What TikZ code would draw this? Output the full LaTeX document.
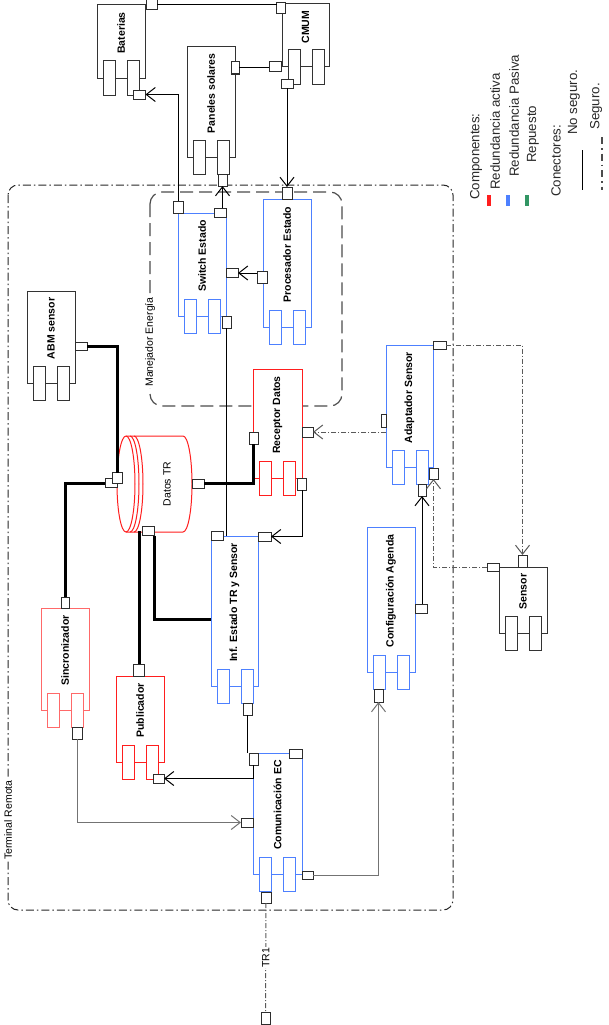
\documentclass[tikz,border=0pt]{standalone}
\usepackage{fontspec}
\setmainfont{Liberation Sans}
\usetikzlibrary{arrows.meta,calc}
\definecolor{cblue}{RGB}{77,128,255}
\definecolor{cred}{RGB}{255,30,30}
\definecolor{cpink}{RGB}{255,105,105}
\definecolor{cgreen}{RGB}{50,150,100}
\definecolor{cgray}{RGB}{45,45,45}
\definecolor{cdark}{RGB}{40,40,40}
\newcommand{\mycomp}[7]{%
  \node[cbox, draw=#6, minimum width={(#4-#2)*1pt}, minimum height={(#5-#3)*1pt}] (#1) at ({(#2+#4)/2},{(#3+#5)/2}) {};
  \draw[tabst, draw=#6] ({#2+6},{#5-17}) rectangle ({#2+18},{#5+17});
  \draw[tabst, draw=#6] ({#2+30},{#5-17}) rectangle ({#2+42},{#5+17});
  \node[lbl] (#1-l) at ({(#2+#4)/2},{(#3+#5-17)/2}) {#7};
}
\newcommand{\myport}[5]{\node[portbox, minimum width=#4pt, minimum height=#5pt] (#1) at (#2,#3) {};}
\begin{document}
\begin{tikzpicture}[x=1pt,y=-1pt,
  cbox/.style={fill=white, inner sep=0pt, outer sep=0pt, line width=1pt},
  tabst/.style={fill=white, line width=1pt},
  lbl/.style={font=\bfseries\fontsize{10.5}{12}\selectfont, rotate=90, inner sep=0pt},
  txt/.style={font=\fontsize{10.5}{12}\selectfont},
  leg/.style={font=\fontsize{13.3}{15}\selectfont, rotate=90, inner sep=0pt, anchor=west, text=cdark},
  portbox/.style={draw=cgray, fill=white, inner sep=0pt, outer sep=0pt, line width=1pt},
  conn/.style={line width=1pt, draw=black},
  arr/.style={-{Straight Barb[length=9pt,width=14pt]}},
  thk/.style={line width=3pt, draw=black},
  sec/.style={line width=1pt, draw=black!65, dash pattern=on 5pt off 2pt on 1pt off 2pt}
]
\useasboundingbox (0,0) rectangle (608,1025);

% boundaries
\draw[line width=1pt, draw=black!85, dash pattern=on 8pt off 3pt on 1.5pt off 3pt, rounded corners=10pt] (8,185) rectangle (453,910);
\node[txt, fill=white, rotate=90, inner sep=1pt] (trlbl) at (8,820) {Terminal Remota};
\draw[line width=1.2pt, draw=black!70, dash pattern=on 13pt off 6pt, rounded corners=12pt] (150,192) rectangle (342,406);
\node[txt, fill=white, rotate=90, inner sep=1pt] (melbl) at (150,342) {Manejador Energía};

% components
\mycomp{bat}{97}{5}{145}{78}{black!80}{Baterias}
\mycomp{cmum}{282}{4}{329}{67}{black!80}{CMUM}
\mycomp{pan}{187}{47}{235}{157}{black!80}{Paneles solares}
\mycomp{sw}{178}{213}{226}{316}{cblue}{Switch Estado}
\mycomp{proc}{263}{199}{311}{327}{cblue}{Procesador Estado}
\mycomp{abm}{27}{291}{75}{383}{black!80}{ABM sensor}
\mycomp{rec}{253}{369}{302}{478}{cred}{Receptor Datos}
\mycomp{adap}{386}{345}{433}{467}{cblue}{Adaptador Sensor}
\mycomp{inf}{211}{536}{258}{686}{cblue}{Inf. Estado TR y Sensor}
\mycomp{cfg}{367}{527}{415}{672}{cblue}{Configuración Agenda}
\mycomp{sen}{499}{567}{547}{633}{black!80}{Sensor}
\mycomp{sinc}{41}{608}{89}{710}{cpink}{Sincronizador}
\mycomp{pub}{116}{676}{164}{762}{cred}{Publicador}
\mycomp{com}{253}{753}{302}{874}{cblue}{Comunicación EC}

% Datos TR
\draw[draw=cred, fill=white, line width=1pt] (126,436) -- (183,436) arc[start angle=-90, end angle=90, x radius=9, y radius=48] -- (126,532) arc[start angle=90, end angle=270, x radius=9, y radius=48] -- cycle;
\draw[draw=cred, line width=1pt] (126,436) arc[start angle=-90, end angle=90, x radius=9, y radius=48];
\draw[draw=cred, line width=1pt] (130,436) arc[start angle=-90, end angle=90, x radius=9, y radius=48];
\draw[draw=cred, line width=1pt] (134,436) arc[start angle=-90, end angle=90, x radius=9, y radius=48];
\node[txt, rotate=90] (dtr) at (167,484) {Datos TR};

% ports
\myport{bT}{151.5}{5}{11}{10}
\myport{bB}{139.5}{94.5}{12}{9}
\myport{cT}{281}{8.5}{9}{11}
\myport{cL}{275}{67}{12}{10}
\myport{cB}{287}{83.5}{12}{9}
\myport{pR}{235}{68}{8}{12}
\myport{pB}{222.5}{180}{9}{12}
\myport{sTL}{178}{207}{10}{12}
\myport{sTR}{220}{212.5}{12}{9}
\myport{sR}{232}{273}{12}{9}
\myport{sB}{226.5}{322}{9}{12}
\myport{prT}{287}{193}{10}{12}
\myport{prL}{262}{277}{10}{12}
\myport{aR}{81}{346}{12}{8}
\myport{dL2}{111}{483}{12}{9}
\myport{dL1}{117}{478}{10}{11}
\myport{dR}{198}{483.5}{12}{9}
\myport{dB}{148.5}{531}{12}{9}
\myport{rL}{253.5}{438}{9}{12}
\myport{rR}{307.5}{432}{11}{10}
\myport{rB}{302}{484}{9}{12}
\myport{adT}{439.5}{345}{13}{8}
\myport{adL}{383.5}{420.5}{5}{13}
\myport{adB1}{422}{490}{8}{12}
\myport{adB2}{433.5}{473.5}{9}{11}
\myport{seT}{522.5}{561}{9}{12}
\myport{seL}{493}{567}{12}{8}
\myport{cfR}{421}{608.5}{12}{9}
\myport{cfB}{378.5}{695.5}{9}{13}
\myport{iTL}{217}{536}{12}{9}
\myport{iTR}{264.5}{536.5}{13}{9}
\myport{iB}{247.5}{709}{9}{12}
\myport{siT}{65}{602.5}{8}{11}
\myport{siB}{77}{733}{10}{12}
\myport{puT}{139}{670}{11}{12}
\myport{puB}{158.5}{778.5}{11}{9}
\myport{coTL}{253.5}{759}{9}{12}
\myport{coTR}{295.5}{753.5}{13}{9}
\myport{coL}{247}{822.5}{12}{9}
\myport{coR}{307.5}{875}{11}{8}
\myport{coB}{266}{897.5}{10}{11}
\myport{tA}{265.5}{1018}{9}{12}

% connectors
\draw[conn] (bT.east) -- (bT.east -| cT.west);
\draw[conn] (pR.east) -- (pR.east -| cL.west);
\draw[conn,arr] (cB.south) -- (prT.north);
\draw[conn,arr] (sTL.north) |- (bB.east);
\draw[conn,arr] (pB.south |- sTR.north) -- (pB.south);
\draw[conn,arr] (prL.west |- sR.east) -- (sR.east);
\draw[conn] (sB.south) -- (sB.south |- inf.north);
\draw[thk] (aR.east) -| (dL1.north);
\draw[thk] (dL2.west) -| (siT.north);
\draw[thk] (dR.east) -| (rL.south);
\draw[thk] (puT.north |- dB.west) -- (puT.north);
\draw[thk] (dB.south east) |- ($(inf.north west)+(0,83)$);
\draw[conn,arr] (rB.south) |- (iTR.east);
\draw[sec,arr] (adap.west |- rR.east) -- (rR.east);
\draw[sec,arr] (adT.east) -| (seT.north);
\draw[sec,arr] (seL.west) -| (adB2.south);
\draw[conn,arr] (adB1.south |- cfR.north) -- (adB1.south);
\draw[conn,draw=black!55,arr] (coR.east) -| (cfB.south);
\draw[conn] (iB.south) -- (iB.south |- coTL.north);
\draw[conn,arr] (coTL.south) |- (puB.east);
\draw[conn,draw=black!55,arr] (siB.south) |- (coL.west);
\draw[sec] (coB.south) -- node[txt, fill=white, rotate=90, inner sep=1pt] (tr1) {TR1} (tA.north);

% legend
\node[leg] (lg1) at (476,200) {Componentes:};
\node[fill=cred, minimum width=4pt, minimum height=11pt, inner sep=0pt] (sw1) at (489,200.5) {};
\node[leg] (lg2) at (495,190) {Redundancia activa};
\node[fill=cblue, minimum width=4pt, minimum height=11pt, inner sep=0pt] (sw2) at (508,200.5) {};
\node[leg] (lg3) at (514,177) {Redundancia Pasiva};
\node[fill=cgreen, minimum width=4pt, minimum height=11pt, inner sep=0pt] (sw3) at (527,200.5) {};
\node[leg] (lg4) at (533,163) {Repuesto};
\node[leg] (lg5) at (556,197) {Conectores:};
\node[leg] (lg6) at (574,135) {No seguro.};
\draw[line width=1pt, draw=black] (582,150) -- (582,190);
\node[leg] (lg7) at (596,130) {Seguro.};
\draw[line width=1.3pt, draw=black!70, dash pattern=on 7pt off 4pt on 1.5pt off 4pt] (602,137) -- (602,190);
\end{tikzpicture}
\end{document}
